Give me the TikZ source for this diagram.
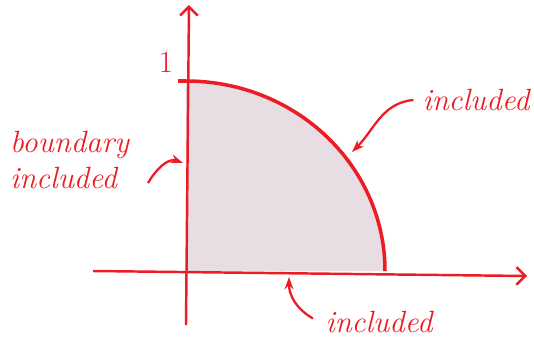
\documentclass[tikz,border=0pt]{standalone}
\usepackage{tikz}
\usetikzlibrary{arrows.meta}

\definecolor{penred}{RGB}{236,28,36}
\definecolor{regionfill}{RGB}{231,221,227}

\begin{document}
\begin{tikzpicture}[
        x=0.02cm, y=-0.02cm,
        axis/.style={draw=penred, line width=1.4pt, -{Straight Barb[length=5pt,width=10pt]}},
        edge/.style={draw=penred, line width=2pt},
        pointer/.style={draw=penred, line width=1.3pt, -{Stealth[length=7pt,width=5pt]}},
        handtext/.style={text=penred, font=\fontsize{17.5}{21}\selectfont\itshape, inner sep=1pt}
    ]
        \useasboundingbox (0,0) rectangle (534,349);

        \coordinate (o) at (186,271);
        \coordinate (top) at (186,81);

        % region
        \fill[regionfill] (o) -- (top) arc[start angle=-90, end angle=0, x radius=199, y radius=190] -- cycle;

        % axes
        \draw[axis] (93,271) -- (527,276);
        \draw[axis] (186,325) -- (189,5);

        % boundary arc
        \draw[edge] (178,81) -- (top) arc[start angle=-90, end angle=0, x radius=199, y radius=190];

        \node[handtext, font=\fontsize{17.5}{21}\selectfont] (one) at (166,62) {1};
        \node[handtext] (topinc) at (476,100) {included};
        \node[handtext, align=left, anchor=west] (leftinc) at (8,160) {boundary\\included};
        \node[handtext] (botinc) at (379,322) {included};

        \coordinate (arcpt) at (352,152);
        \coordinate (ypt) at (183,163);
        \coordinate (xpt) at (289,277);

        \draw[pointer] ([xshift=-4pt]topinc.west) to[out=185,in=45] (arcpt);
        \draw[pointer] (148,183) to[out=60,in=160] (ypt);
        \draw[pointer] ([xshift=-6pt,yshift=2pt]botinc.west) to[out=150,in=-90] (xpt);
    \end{tikzpicture}
\end{document}
